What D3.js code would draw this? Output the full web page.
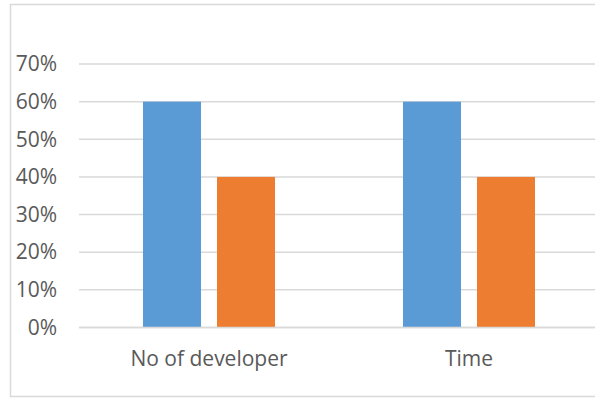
<!DOCTYPE html>
<html>
<head>
<meta charset="utf-8">
<script src="https://cdn.jsdelivr.net/npm/d3@7"></script>
<style>
  html, body { margin: 0; padding: 0; background: #fff; }
  svg { display: block; }
</style>
</head>
<body>
<svg id="chart" width="595" height="398"></svg>
<script>
const categories = ["No of developer", "Time"];
const seriesNames = ["Series1", "Series2"];
const series1 = [0.6, 0.6];
const series2 = [0.4, 0.4];
const yTicks = [0, 0.1, 0.2, 0.3, 0.4, 0.5, 0.6, 0.7];
const colors = ["#5B9BD5", "#ED7D31"];

const svg = d3.select("#chart");
const W = 595, H = 398;

// chart border
svg.append("rect")
  .attr("x", 10.5).attr("y", 4.5)
  .attr("width", 600).attr("height", 392)
  .attr("fill", "none").attr("stroke", "#d9d9d9").attr("stroke-width", 1.5);

const plotLeft = 79, plotRight = 599, plotTop = 64, plotBottom = 327.5;

const x0 = d3.scaleBand().domain(categories).range([plotLeft, plotRight]).padding(0);
const x1 = d3.scaleBand().domain(seriesNames).range([64, 196]).paddingInner(16 / 74).paddingOuter(0);
const y = d3.scaleLinear().domain([0, 0.7]).range([plotBottom, plotTop]);

// gridlines
const yAxis = d3.axisLeft(y).tickValues(yTicks).tickFormat(d3.format(".0%")).tickSize(0).tickPadding(0);
const gGrid = svg.append("g");
gGrid.selectAll("line").data(yTicks).join("line")
  .attr("x1", plotLeft).attr("x2", W)
  .attr("y1", d => y(d)).attr("y2", d => y(d))
  .attr("stroke", "#d9d9d9").attr("stroke-width", 1.5);

// y axis labels
const gy = svg.append("g").attr("transform", `translate(57,0)`).call(yAxis);
gy.select(".domain").remove();
gy.selectAll("text")
  .attr("font-family", "'Open Sans', sans-serif")
  .attr("font-size", 21)
  .attr("fill", "#595959");

// bars
const data = categories.map((c, i) => ({ cat: c, values: [
  { s: seriesNames[0], v: series1[i] },
  { s: seriesNames[1], v: series2[i] }
]}));

const groups = svg.append("g").selectAll("g").data(data).join("g")
  .attr("transform", d => `translate(${x0(d.cat)},0)`);
groups.selectAll("rect").data(d => d.values).join("rect")
  .attr("x", d => x1(d.s))
  .attr("width", x1.bandwidth())
  .attr("y", d => y(d.v))
  .attr("height", d => y(0) - y(d.v))
  .attr("fill", (d, i) => colors[i]);

// redraw baseline over bars
svg.append("line")
  .attr("x1", plotLeft).attr("x2", W)
  .attr("y1", y(0)).attr("y2", y(0))
  .attr("stroke", "#d9d9d9").attr("stroke-width", 1.5);

// x axis labels
const xAxis = d3.axisBottom(x0).tickSize(0).tickPadding(0);
const gx = svg.append("g").attr("transform", `translate(0,${plotBottom})`).call(xAxis);
gx.select(".domain").remove();
gx.selectAll("text")
  .attr("y", 38.5)
  .attr("dy", 0)
  .attr("font-family", "'Open Sans', sans-serif")
  .attr("font-size", 21)
  .attr("fill", "#595959");
</script>
</body>
</html>
